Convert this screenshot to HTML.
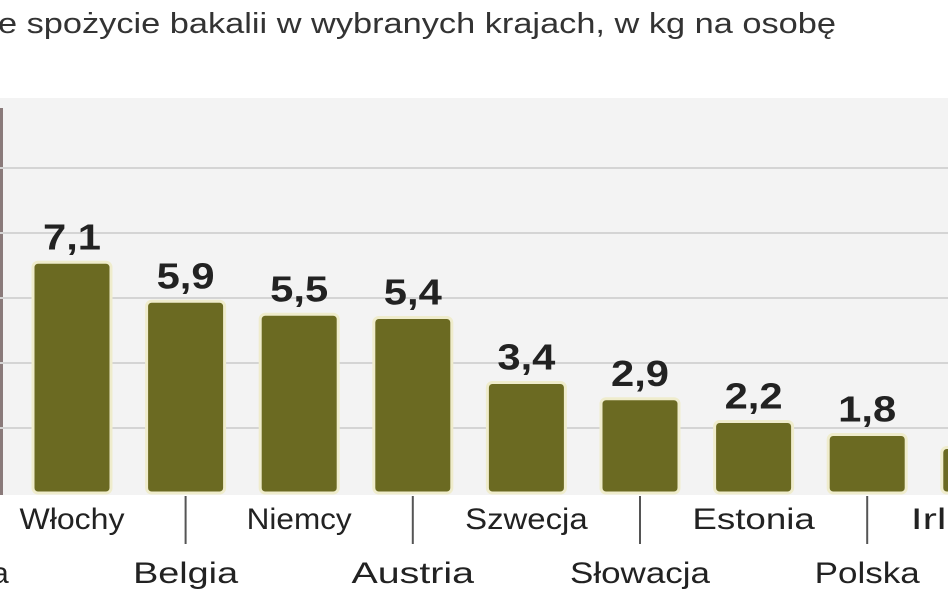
<!DOCTYPE html>
<html><head><meta charset="utf-8"><style>
body{margin:0;width:948px;height:593px;overflow:hidden;background:#fff;font-family:"Liberation Sans",sans-serif}
</style></head><body>
<svg width="948" height="593">
<text x="-2" y="33" font-size="29" fill="#333" textLength="838" lengthAdjust="spacingAndGlyphs">e spożycie bakalii w wybranych krajach, w kg na osobę</text>
<rect x="0" y="98" width="948" height="397" fill="#f3f3f3"/>
<rect x="0" y="108" width="3" height="387" fill="#8a7a7a"/>
<g id="grid"></g><g id="bars"></g>
</svg>
<script>
const categories=["Włochy","Belgia","Niemcy","Austria","Szwecja","Słowacja","Estonia","Polska","Irlandia"];
const values=[7.1,5.9,5.5,5.4,3.4,2.9,2.2,1.8,1.4];
const labels=["7,1","5,9","5,5","5,4","3,4","2,9","2,2","1,8","1,4"];
const gridTicks=[2,4,6,8,10];
const ns="http://www.w3.org/2000/svg";
const base=493,unit=32.5;
const y=v=>base-v*unit;
const x=i=>72+i*113.6;
function mk(t,a,p){const e=document.createElementNS(ns,t);for(const k in a)e.setAttribute(k,a[k]);p.appendChild(e);return e;}
const g=document.getElementById('grid'),b=document.getElementById('bars');
gridTicks.forEach(t=>{const l=mk('line',{x1:0,x2:948,y1:y(t),y2:y(t),stroke:'#d4d4d4','stroke-width':2},g);

});
categories.forEach((c,i)=>{
const cx=x(i);
const r=mk('rect',{x:cx-39,y:y(values[i]),width:78,height:values[i]*unit,rx:5,fill:'#6b6a22',stroke:'#efeccc','stroke-width':3},b);


const v=mk('text',{x:cx,y:y(values[i])-13,'text-anchor':'middle','font-size':36,'font-weight':'bold',fill:'#222',textLength:58,lengthAdjust:'spacingAndGlyphs'},b);
v.textContent=labels[i];


const low=i%2===1;
if(low){const l=mk('line',{x1:cx,x2:cx,y1:base+3,y2:544,stroke:'#555','stroke-width':2},b);

}
const t=mk('text',{x:cx,y:low?583:529,'text-anchor':'middle','font-size':30,fill:'#222',textLength:c.length*17.5,lengthAdjust:'spacingAndGlyphs'},b);
t.textContent=c;


});
const a=mk('text',{x:-8,y:583,'font-size':30,fill:'#222'},b);
a.textContent="a";


</script>
</body></html>
